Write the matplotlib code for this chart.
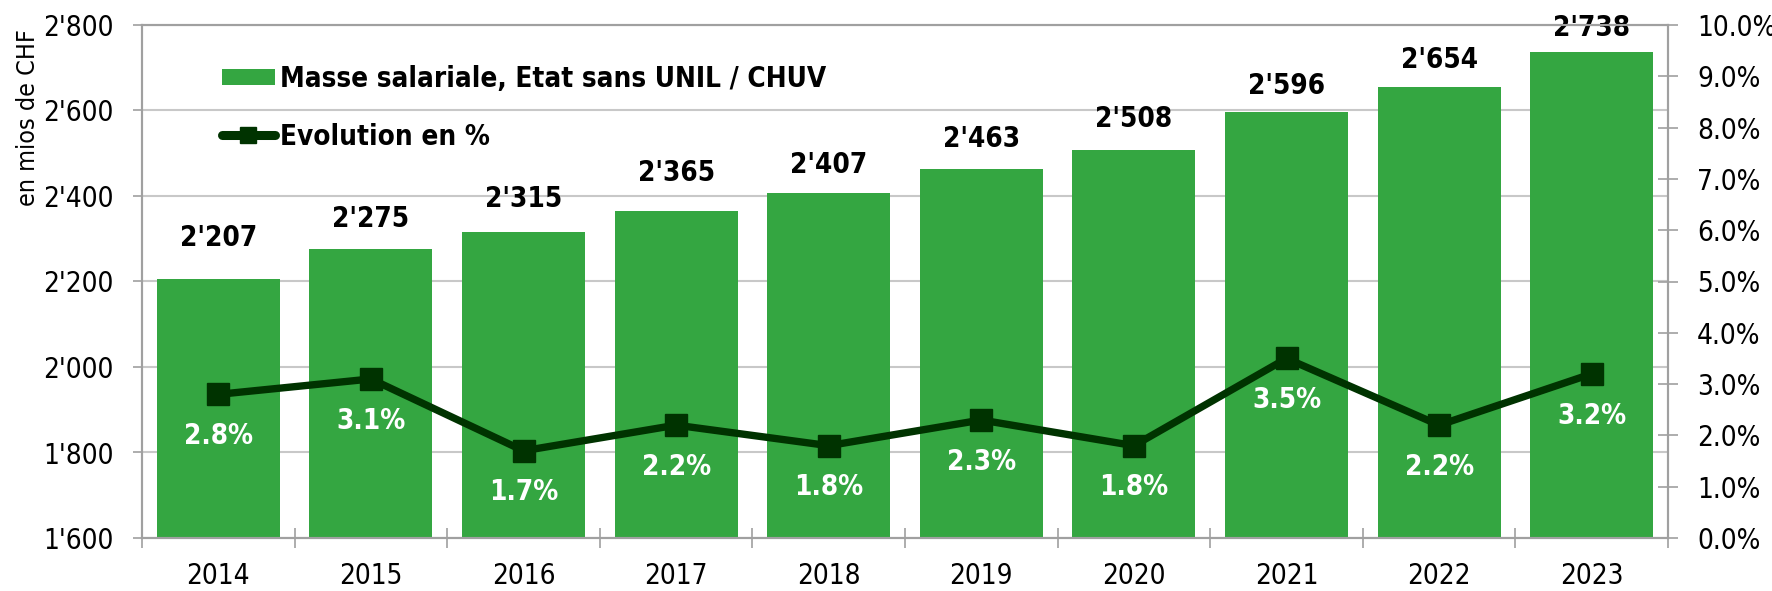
import numpy as np
import matplotlib
matplotlib.use("Agg")
import matplotlib.pyplot as plt
from matplotlib.ticker import FuncFormatter, FixedLocator
from matplotlib.patches import Patch
from matplotlib.lines import Line2D

plt.rcParams['font.family'] = ['DejaVu Sans']
plt.rcParams['font.stretch'] = 'condensed'

# data
years = ['2014', '2015', '2016', '2017', '2018', '2019', '2020', '2021', '2022', '2023']
masse = [2207, 2275, 2315, 2365, 2407, 2463, 2508, 2596, 2654, 2738]
evolution = [2.8, 3.1, 1.7, 2.2, 1.8, 2.3, 1.8, 3.5, 2.2, 3.2]

# gap (in points) between bar top and its value label, as placed in the original
label_gap = [29, 22, 24, 27, 20, 22, 22, 19, 20, 17]

bar_color = '#34a641'
line_color = '#003300'
axis_gray = '#a0a0a0'
grid_gray = '#c8c8c8'


def chf(v):
    return f"{int(v):,}".replace(",", "'")


fig = plt.figure(figsize=(17.72, 5.91), dpi=100)
ax = fig.add_axes([142 / 1772, 53 / 591, (1668 - 142) / 1772, (538 - 25) / 591])
ax2 = ax.twinx()

x = np.arange(len(years))

# bars
ax.bar(x, masse, width=0.805, color=bar_color, zorder=2)
ax.set_ylim(1600, 2800)
ax.set_xlim(-0.5, len(years) - 0.5)
ax.set_yticks(np.arange(1600, 2801, 200))
ax.yaxis.set_major_formatter(FuncFormatter(lambda v, p: chf(v)))
ax.grid(axis='y', color=grid_gray, linewidth=1.5, zorder=0)
ax.set_axisbelow(True)

for xi, v, g in zip(x, masse, label_gap):
    ax.annotate(chf(v), (xi, v), xytext=(0, g), textcoords='offset points',
                ha='center', va='center', fontsize=20, fontweight='bold',
                color='black', clip_on=False, annotation_clip=False)

# x ticks: labels at categories, tick marks between
ax.set_xticks(x)
ax.set_xticklabels(years)
ax.xaxis.set_minor_locator(FixedLocator(np.arange(-0.5, len(years), 1.0)))
ax.tick_params(axis='x', which='major', length=0, pad=17, labelsize=20)
ax.tick_params(axis='x', which='minor', direction='inout', length=14,
               width=1.2, color=axis_gray)
ax.tick_params(axis='y', which='major', direction='out', length=6.5,
               width=1.2, color=axis_gray, pad=14, labelsize=20)

# line on secondary axis
ax2.plot(x, evolution, color=line_color, linewidth=5.3, marker='s',
         markersize=16.5, zorder=3)
ax2.set_ylim(0, 10)
ax2.set_yticks(np.arange(0, 10.01, 1))
ax2.yaxis.set_major_formatter(FuncFormatter(lambda v, p: f"{v:.1f}%"))
ax2.tick_params(axis='y', direction='inout', length=14, width=1.2,
                color=axis_gray, pad=14, labelsize=20)

for xi, v in zip(x, evolution):
    ax2.annotate(f"{v:.1f}%", (xi, v), xytext=(0, -30), textcoords='offset points',
                 ha='center', va='center', fontsize=20, fontweight='bold',
                 color='white')

for a in (ax, ax2):
    for s in a.spines.values():
        s.set_color(axis_gray)
        s.set_linewidth(1.5)

# legend
handles = [
    Patch(facecolor=bar_color, edgecolor='none'),
    Line2D([0], [0], color=line_color, linewidth=6.5, marker='s',
           markersize=12, solid_capstyle='round'),
]
labels = ['Masse salariale, Etat sans UNIL / CHUV', 'Evolution en %']
leg = ax2.legend(handles, labels, loc='upper left', bbox_to_anchor=(0.045, 0.944),
                 frameon=False, prop={'size': 20, 'weight': 'bold'},
                 handlelength=1.9, handleheight=0.55, handletextpad=0.2,
                 labelspacing=1.07, borderaxespad=0)

fig.text(28 / 1772, 1 - 118 / 591, 'en mios de CHF', rotation=90,
         ha='center', va='center', fontsize=18)

fig.savefig('out.png', dpi=100)
